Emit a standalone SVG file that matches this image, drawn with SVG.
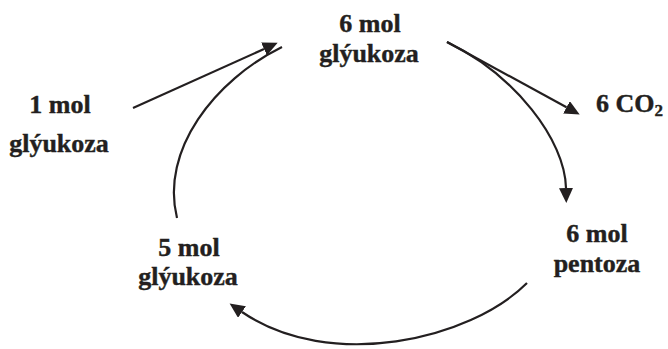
<svg xmlns="http://www.w3.org/2000/svg" width="668" height="349" viewBox="0 0 668 349">
<style>
text{font-family:"Liberation Serif","Times New Roman",serif;font-weight:bold;font-size:26px;fill:#231f20;stroke:#231f20;stroke-width:0.4;text-anchor:middle}
.c{fill:none;stroke:#231f20;stroke-width:2.2}
</style>
<defs>
<marker id="ah" markerUnits="userSpaceOnUse" markerWidth="16" markerHeight="14" refX="0" refY="7" orient="auto" viewBox="0 0 16 14">
<path d="M0,0 L15,7 L0,14 Z" fill="#231f20"/>
</marker>
</defs>
<g id="connectors">
<line class="c" x1="133" y1="108" x2="264" y2="49" marker-end="url(#ah)"/>
<path class="c" d="M177,218 C160,150 215,80 282,47"/>
<line class="c" x1="447" y1="42" x2="566.5" y2="107.3" marker-end="url(#ah)"/>
<path class="c" d="M447,42 C515,75 565,140 566,188" marker-end="url(#ah)"/>
<path class="c" d="M527,283 C470,340 330,372 242,312" marker-end="url(#ah)"/>
</g>
<g id="n1"><text x="370" y="31.5">6 mol</text><text x="369" y="61.5">glýukoza</text></g>
<g id="n2"><text x="60" y="113">1 mol</text><text x="59" y="152">glýukoza</text></g>
<g id="n3"><text x="596" y="112" style="text-anchor:start">6 CO<tspan dy="4" style="font-size:17px">2</tspan></text></g>
<g id="n4"><text x="597" y="241.5">6 mol</text><text x="597" y="271.5">pentoza</text></g>
<g id="n5"><text x="189" y="255.5">5 mol</text><text x="188" y="285">glýukoza</text></g>
</svg>
